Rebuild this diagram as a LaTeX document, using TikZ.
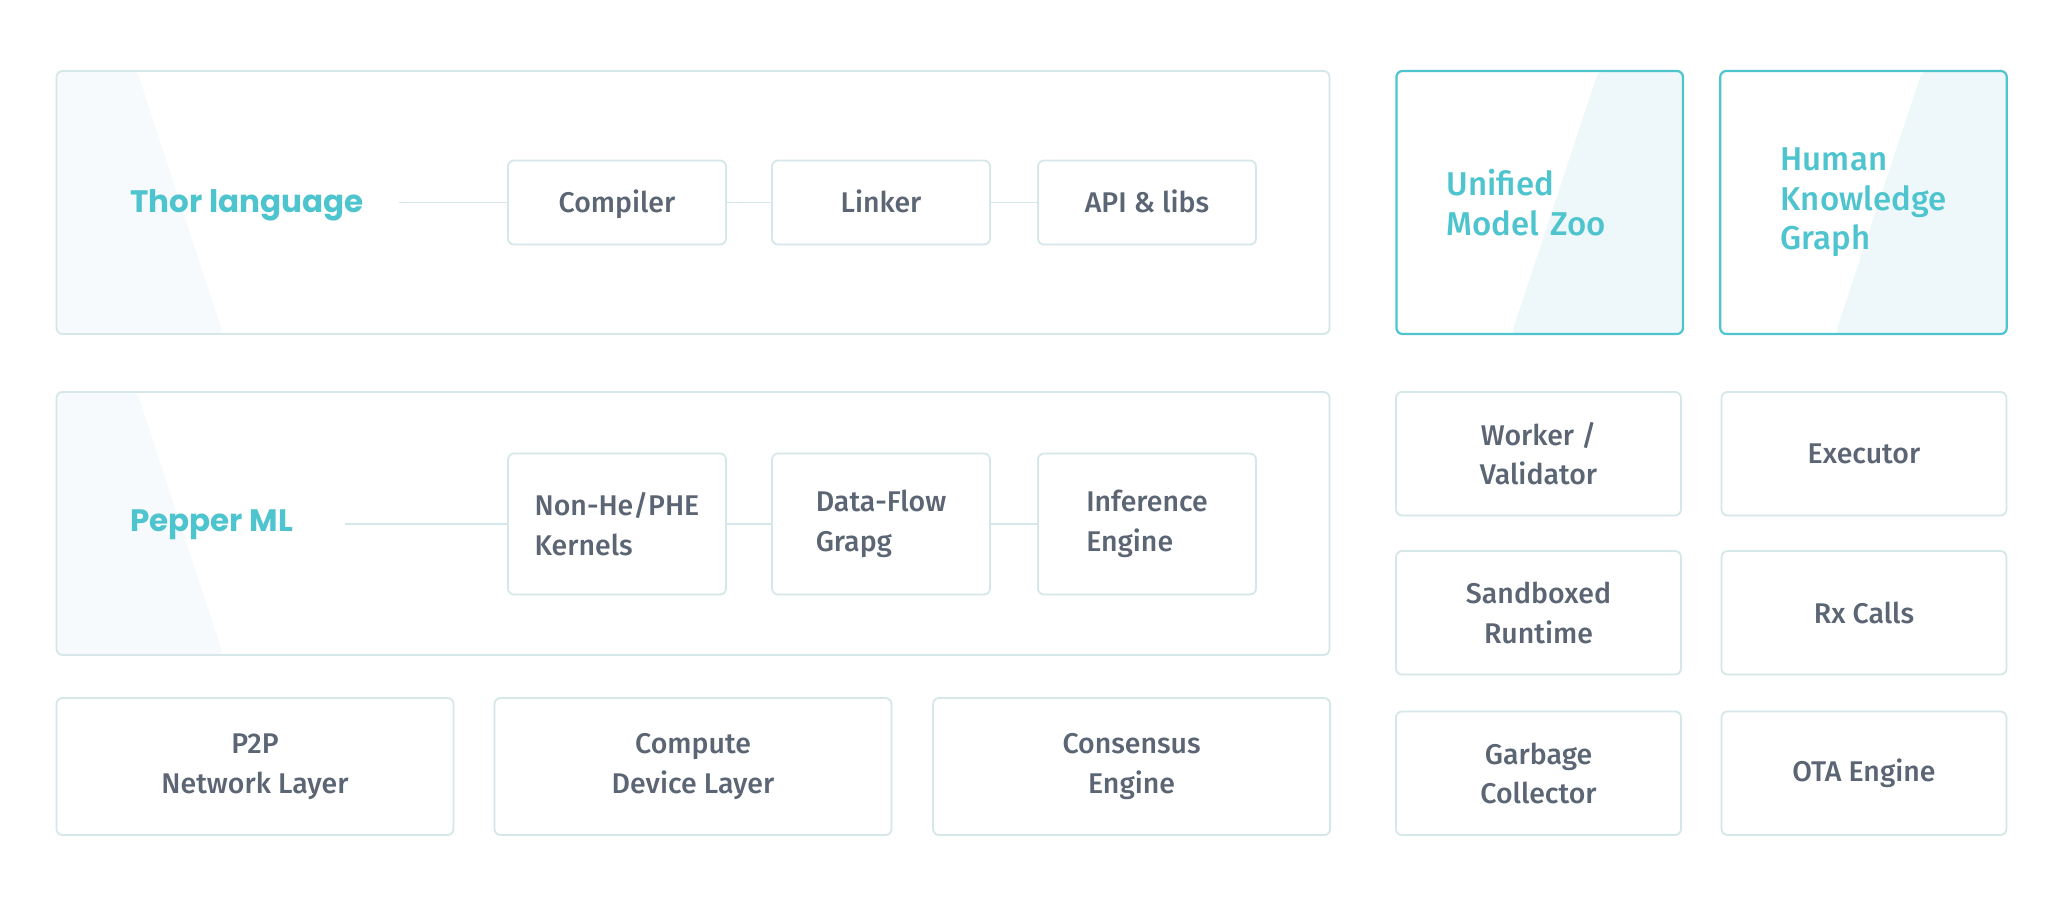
\documentclass[tikz,border=0pt]{standalone}
\usepackage{fontspec}
\newfontfamily\headfont{Poppins}
\newfontfamily\bodyfont{Fira Sans Medium}
\definecolor{bdr}{HTML}{D6E7EA}
\definecolor{teal}{HTML}{4DC4CE}
\definecolor{txt}{HTML}{5B6574}
\definecolor{shadeL}{HTML}{F6FAFC}
\definecolor{shadeR}{HTML}{EEF7F9}
\begin{document}
\begin{tikzpicture}[x=1pt,y=-1pt,
  base/.style={rounded corners=6pt, inner sep=0pt, align=center},
  graybox/.style={base, draw=bdr, line width=1.8pt, text=txt,
     font=\bodyfont\fontsize{28.5}{39.5}\selectfont},
  bigbox/.style={base, draw=bdr, line width=1.8pt, minimum width=1273pt, minimum height=263pt,
     path picture={\fill[shadeL] (path picture bounding box.north west) -- ++(80.5,0)
        -- ($(path picture bounding box.south west)+(166.5,0)$) -- (path picture bounding box.south west) -- cycle;}},
  tealbox/.style={base, draw=teal, line width=2.2pt, text=teal, align=left,
     minimum width=286.5pt, minimum height=263pt,
     font=\bodyfont\fontsize{33}{39.5}\selectfont,
     path picture={\fill[shadeR] ($(path picture bounding box.north west)+(202,0)$) -- (path picture bounding box.north east)
        -- (path picture bounding box.south east) -- ($(path picture bounding box.south west)+(115,0)$) -- cycle;}},
  headlbl/.style={text=teal, inner sep=0pt, anchor=west, font=\headfont\bfseries\fontsize{31}{36}\selectfont},
  link/.style={draw=bdr, line width=1.8pt},
  smallbox/.style={graybox, minimum width=218pt, minimum height=84pt, text height=24pt, text depth=4pt},
  midbox/.style={graybox, align=left, minimum width=218pt, minimum height=141pt},
  lowbox/.style={graybox, minimum width=397pt, minimum height=137pt},
  sidebox/.style={graybox, minimum width=285pt, minimum height=123.5pt}
]
\usetikzlibrary{calc}
\fill[white] (0,0) rectangle (2062,906);
\useasboundingbox (0,0) rectangle (2062,906);

% big panels
\node[bigbox] (thorbox) at (693,202.5) {};
\node[bigbox] (pepbox) at (693,523.5) {};

% Thor row
\node[headlbl] (thor) at (130,205) {Thor language};
\coordinate (thorend) at (399,202.5);
\node[smallbox] (comp) at (617,202.5) {Compiler};
\node[smallbox] (link) at (881,202.5) {Linker};
\node[smallbox] (api) at (1147,202.5) {API \& libs};
\draw[link] (thorend) -- (comp.west);
\draw[link] (comp.east) -- (link.west);
\draw[link] (link.east) -- (api.west);

% Pepper row
\node[headlbl] (pep) at (130,525) {Pepper ML};
\coordinate (pepend) at (344.5,524);
\node[midbox] (kern) at (617,524) {Non-He/PHE\\Kernels};
\node[midbox] (flow) at (881,524) {Data-Flow\\Grapg};
\node[midbox] (infer) at (1147,524) {Inference\\Engine};
\draw[link] (pepend) -- (kern.west);
\draw[link] (kern.east) -- (flow.west);
\draw[link] (flow.east) -- (infer.west);

% bottom row
\node[lowbox] (p2p) at (255,766.5) {P2P\\Network Layer};
\node[lowbox] (cdev) at (693,766.5) {Compute\\Device Layer};
\node[lowbox] (cons) at (1131.6,766.5) {Consensus\\Engine};

% right top
\node[tealbox, text width=186pt] (zoo) at (1539.7,202.5) {Unified\\Model Zoo};
\node[tealbox] (hkg) at (1863.5,202.5) {Human\\Knowledge\\Graph};

% right grid
\node[sidebox] (work) at (1538.5,453.7) {Worker /\\Validator};
\node[sidebox] (exec) at (1864,453.7) {Executor};
\node[sidebox] (sand) at (1538.5,612.8) {Sandboxed\\Runtime};
\node[sidebox] (rx) at (1864,612.8) {Rx Calls};
\node[sidebox] (gc) at (1538.5,773.2) {Garbage\\Collector};
\node[sidebox] (ota) at (1864,773.2) {OTA Engine};
\end{tikzpicture}
\end{document}
